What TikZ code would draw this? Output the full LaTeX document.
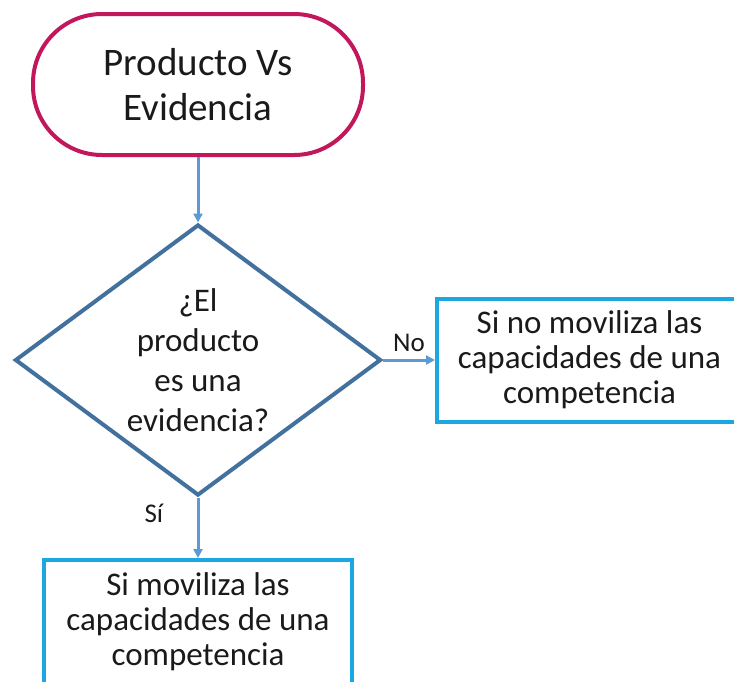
\documentclass[tikz,border=0pt]{standalone}
\usepackage{fontspec}
\setmainfont{Carlito}
\usetikzlibrary{shapes.geometric,arrows.meta}
\definecolor{termc}{HTML}{C2185B}
\definecolor{diac}{HTML}{41719C}
\definecolor{arrc}{HTML}{5B9BD5}
\definecolor{boxc}{HTML}{1CA6E2}
\definecolor{txt}{HTML}{1A1A1A}
\begin{document}
\begin{tikzpicture}[x=1pt,y=-1pt,
  term/.style={draw=termc, line width=4pt, rounded corners=69pt, minimum width=330pt, minimum height=141pt, align=center, text=txt, font=\fontsize{39}{45}\selectfont},
  dia/.style={diamond, draw=diac, line width=4pt, aspect=1.35, inner sep=0pt, minimum width=366pt, minimum height=271pt, align=center, text=txt, font=\fontsize{33}{40}\selectfont},
  outbox/.style={draw=boxc, line width=4pt, align=center, text=txt, font=\fontsize{33}{35}\selectfont},
  arr/.style={draw=arrc, line width=3pt, -{Triangle[length=9pt,width=9pt]}},
  lbl/.style={text=txt, font=\fontsize{27}{30}\selectfont}]
\useasboundingbox (0,0) rectangle (734,681);
\clip (0,0) rectangle (734,681);
\fill[white] (0,0) rectangle (734,681);
\node[term] (start) at (198,84.5) {Producto Vs\\Evidencia};
\node[dia] (q) at (198,360) {¿El\\producto\\es una\\evidencia?};
\node[outbox, minimum width=305pt, minimum height=123pt] (no) at (589.5,360) {Si no moviliza las\\capacidades de una\\competencia};
\node[outbox, minimum width=308pt, minimum height=124pt] (yes) at (198,622) {Si moviliza las\\capacidades de una\\competencia};
\draw[arr] (start.south) -- (q.north);
\draw[arr] (q.east) -- node[lbl, above=3pt] {No} (no.west);
\draw[arr] (q.south) -- node[lbl, pos=0.27, left=30pt] {Sí} (yes.north);
\end{tikzpicture}
\end{document}
